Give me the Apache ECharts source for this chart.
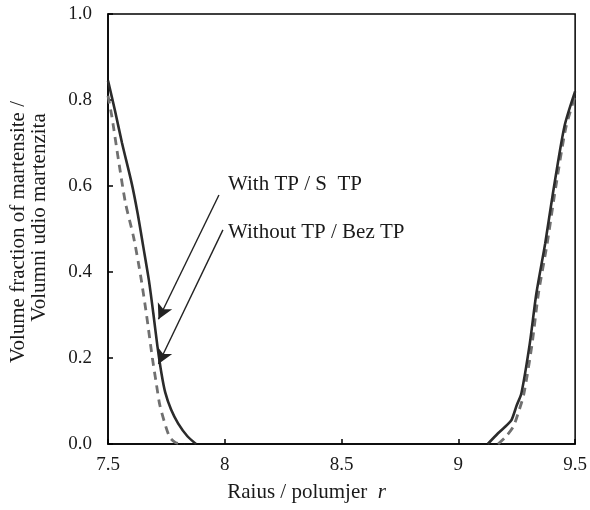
<!DOCTYPE html>
<html>
<head>
<meta charset="utf-8">
<script src="https://cdn.jsdelivr.net/npm/echarts@6/dist/echarts.min.js"></script>
<style>
  html, body { margin: 0; padding: 0; background: #fff; }
  #chart { width: 590px; height: 510px; }
</style>
</head>
<body>
<div id="chart"></div>
<script>
// radius r vs. volume fraction
var xTicks = [7.5, 8, 8.5, 9, 9.5];
var yTicks = [0, 0.2, 0.4, 0.6, 0.8, 1.0];

// solid line, left branch
var solidLeft = [
  [7.50, 0.845], [7.53, 0.775], [7.56, 0.70], [7.602, 0.605], [7.627, 0.536],
  [7.651, 0.459], [7.675, 0.381], [7.694, 0.304], [7.712, 0.226], [7.729, 0.164],
  [7.745, 0.12], [7.77, 0.08], [7.80, 0.048], [7.84, 0.018], [7.877, 0]
];
// solid line, right branch
var solidRight = [
  [9.126, 0], [9.17, 0.025], [9.21, 0.045], [9.228, 0.056], [9.25, 0.09],
  [9.27, 0.118], [9.306, 0.234], [9.334, 0.35], [9.372, 0.467], [9.405, 0.583],
  [9.454, 0.738], [9.5, 0.82]
];
// dashed line, left branch
var dashLeft = [
  [7.50, 0.81], [7.517, 0.76], [7.545, 0.66], [7.575, 0.56], [7.61, 0.48],
  [7.64, 0.39], [7.665, 0.30], [7.69, 0.20], [7.707, 0.14], [7.722, 0.09],
  [7.745, 0.045], [7.765, 0.015], [7.79, 0.003], [7.826, 0]
];
// dashed line, right branch
var dashRight = [
  [9.17, 0], [9.20, 0.015], [9.235, 0.04], [9.255, 0.07], [9.28, 0.115],
  [9.315, 0.23], [9.343, 0.35], [9.38, 0.465], [9.412, 0.58], [9.46, 0.735],
  [9.5, 0.81]
];

// annotation arrows: [start, end] in data units
var arrowWith = [[7.975, 0.579], [7.716, 0.29]];
var arrowWithout = [[7.992, 0.498], [7.716, 0.186]];
var labelWith = 'With TP / S  TP';
var labelWithout = 'Without TP / Bez TP';

var font = 'Liberation Serif';
var ink = '#1a1a1a';

function line(data, dashed) {
  return {
    type: 'line',
    data: data,
    symbol: 'none',
    smooth: 0.25,
    silent: true,
    z: dashed ? 2 : 3,
    lineStyle: dashed
      ? { color: '#707070', width: 2.8, type: [8, 6] }
      : { color: '#2b2b2b', width: 2.6 }
  };
}

function arrow(a) {
  return [
    { coord: a[0], symbol: 'none' },
    { coord: a[1], symbol: 'arrow', symbolSize: [12, 15] }
  ];
}

var chart = echarts.init(document.getElementById('chart'));
var series = [
  line(dashLeft, true),
  line(dashRight, true),
  line(solidLeft, false),
  line(solidRight, false)
];
series[0].markLine = {
  silent: true,
  animation: false,
  symbol: ['none', 'arrow'],
  lineStyle: { color: '#222', width: 1.4, type: 'solid' },
  label: { show: false },
  data: [arrow(arrowWith), arrow(arrowWithout)]
};

chart.setOption({
  animation: false,
  textStyle: { fontFamily: font },
  grid: {
    left: 106, right: 13, top: 14, bottom: 66,
    show: true, borderColor: '#000', borderWidth: 1.5, backgroundColor: '#fff'
  },
  xAxis: {
    type: 'value',
    min: xTicks[0], max: xTicks[xTicks.length - 1], interval: 0.5,
    axisLine: { lineStyle: { color: '#000', width: 1.5 } },
    axisTick: { inside: true, length: 5, lineStyle: { color: '#000', width: 1.5 } },
    splitLine: { show: false },
    axisLabel: { color: ink, fontSize: 19, fontFamily: font, margin: 12 },
    name: '{n|Raius / polumjer  }{i|r}',
    nameLocation: 'middle',
    nameGap: 38,
    nameTextStyle: {
      padding: [0, 70, 0, 0],
      rich: {
        n: { fontSize: 21, fontFamily: font, color: ink },
        i: { fontSize: 21, fontFamily: font, color: ink, fontStyle: 'italic' }
      }
    }
  },
  yAxis: {
    type: 'value',
    min: yTicks[0], max: yTicks[yTicks.length - 1], interval: 0.2,
    axisLine: { lineStyle: { color: '#000', width: 1.5 } },
    axisTick: { inside: true, length: 5, lineStyle: { color: '#000', width: 1.5 } },
    splitLine: { show: false },
    axisLabel: {
      color: ink, fontSize: 19, fontFamily: font, margin: 16,
      formatter: function (v) { return v.toFixed(1); }
    },
    name: '{a|Volume fraction of martensite /}\n{b|Volumni udio martenzita}',
    nameLocation: 'middle',
    nameRotate: 90,
    nameGap: 58,
    nameTextStyle: {
      padding: [0, 6, 0, 0],
      rich: {
        a: { fontSize: 21, fontFamily: font, color: ink, lineHeight: 21 },
        b: { fontSize: 21, fontFamily: font, color: ink, lineHeight: 21, padding: [0, 0, 0, 29] }
      }
    }
  },
  graphic: [
    { type: 'text', left: 228, top: 174,
      style: { text: labelWith, fontSize: 21, fontFamily: font, fill: ink } },
    { type: 'text', left: 228, top: 222,
      style: { text: labelWithout, fontSize: 21, fontFamily: font, fill: ink } }
  ],
  series: series
});
</script>
</body>
</html>
